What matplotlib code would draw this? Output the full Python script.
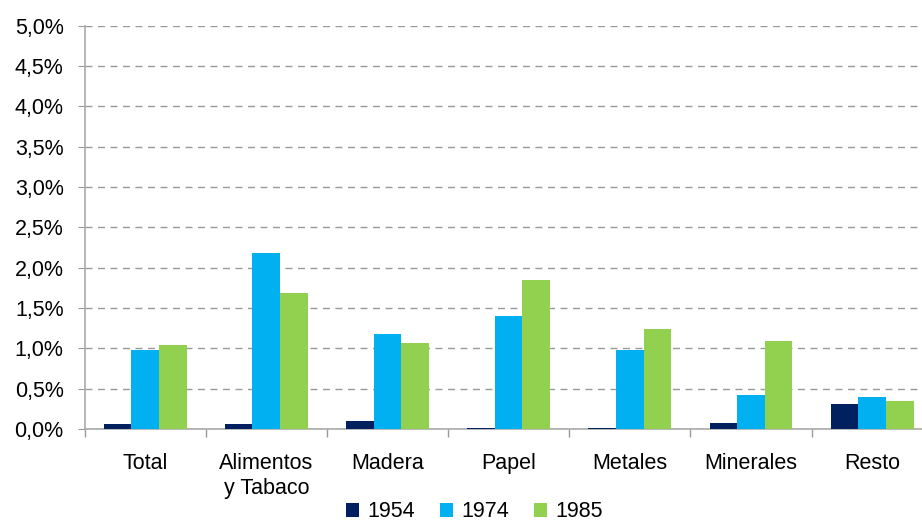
import numpy as np
import matplotlib.pyplot as plt
from matplotlib.ticker import FuncFormatter, FixedLocator

plt.rcParams['font.family'] = ['Liberation Sans', 'DejaVu Sans']

categories = ['Total', 'Alimentos\ny Tabaco', 'Madera', 'Papel', 'Metales', 'Minerales', 'Resto']
years = ['1954', '1974', '1985']
v1954 = [0.06, 0.06, 0.10, 0.01, 0.01, 0.07, 0.31]
v1974 = [0.98, 2.18, 1.18, 1.40, 0.98, 0.42, 0.40]
v1985 = [1.04, 1.68, 1.07, 1.85, 1.24, 1.09, 0.35]
colors = ['#002060', '#00B0F0', '#92D050']

fig = plt.figure(figsize=(9.22, 5.25), dpi=100)
# right edge goes a bit past the figure, like the original
ax = fig.add_axes([0.0917, 0.183, 0.92, 0.768])

x = np.arange(len(categories))
w = 0.228
for i, (vals, lab) in enumerate(zip([v1954, v1974, v1985], years)):
    ax.bar(x + (i - 1) * w, vals, w, color=colors[i], label=lab, zorder=3)

ax.set_xlim(-0.5, len(categories) - 0.5)
ax.set_ylim(0, 5.0)
ax.set_yticks(np.arange(0, 5.01, 0.5))
ax.yaxis.set_major_formatter(FuncFormatter(lambda v, p: ('%.1f%%' % v).replace('.', ',')))
ax.yaxis.grid(True, linestyle=(0, (5, 4)), color='#999999', linewidth=1, zorder=0)

ax.set_xticks(x)
ax.set_xticklabels(categories, linespacing=1.25)
ax.xaxis.set_minor_locator(FixedLocator(np.arange(-0.5, len(categories), 1)))
ax.tick_params(axis='x', which='major', length=0, pad=17, labelsize=15.5)
ax.tick_params(axis='x', which='minor', length=6, color='#999999', width=1)
ax.tick_params(axis='y', length=5, color='#999999', labelsize=15.5, pad=10)

for s in ['top', 'right']:
    ax.spines[s].set_visible(False)
for s in ['left', 'bottom']:
    ax.spines[s].set_color('#AAAAAA')
    ax.spines[s].set_linewidth(1.2)

fig.legend(loc='lower center', bbox_to_anchor=(0.515, -0.032), ncol=3, frameon=False,
           fontsize=15.5, handlelength=0.6, handleheight=0.6, handletextpad=0.4,
           columnspacing=1.15)

fig.savefig('out.png', dpi=100)
